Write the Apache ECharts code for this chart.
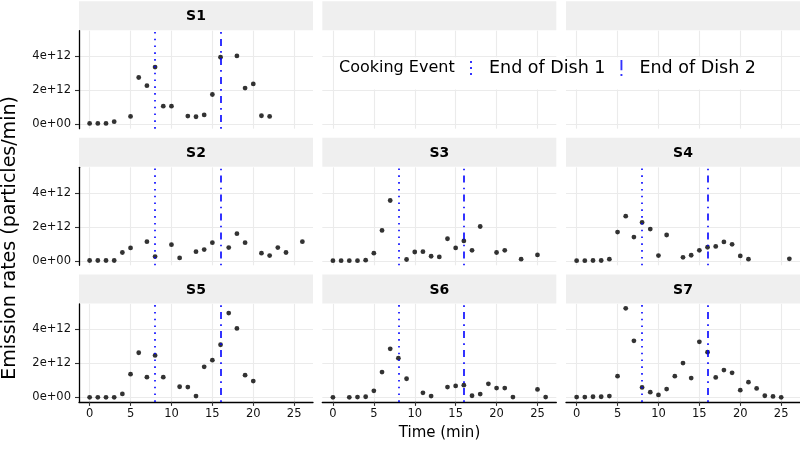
<!DOCTYPE html>
<html><head><meta charset="utf-8">
<script src="https://cdn.jsdelivr.net/npm/echarts@6/dist/echarts.min.js"></script>
<style>html,body{margin:0;padding:0;background:#fff}#c{width:800px;height:451px}</style>
</head><body><div id="c"></div>
<script>
// ---- data (emission rates in units of 1e12 particles/min) ----
const panelNames = ['S1', 'S2', 'S3', 'S4', 'S5', 'S6', 'S7'];
const s1Time = [0,1,2,3,5,6,7,8,9,10,12,13,14,15,16,18,19,20,21,22];
const s1Rate = [0.05,0.05,0.05,0.15,0.46,2.75,2.27,3.36,1.06,1.06,0.48,0.44,0.55,1.75,3.94,4.02,2.13,2.37,0.5,0.46];
const s2Time = [0,1,2,3,4,5,7,8,10,11,13,14,15,17,18,19,21,22,23,24,26];
const s2Rate = [0.02,0.02,0.02,0.02,0.49,0.76,1.13,0.25,0.95,0.17,0.54,0.66,1.07,0.78,1.6,1.07,0.45,0.31,0.78,0.49,1.13];
const s3Time = [0,1,2,3,4,5,6,7,9,10,11,12,13,14,15,16,17,18,20,21,23,25];
const s3Rate = [0.01,0.01,0.01,0.01,0.04,0.45,1.79,3.55,0.08,0.52,0.54,0.27,0.23,1.3,0.76,1.17,0.62,2.02,0.49,0.62,0.1,0.35];
const s4Time = [0,1,2,3,4,5,6,7,8,9,10,11,13,14,15,16,17,18,19,20,21,26];
const s4Rate = [0.01,0.01,0.02,0.02,0.1,1.69,2.63,1.4,2.26,1.87,0.31,1.52,0.21,0.33,0.62,0.8,0.85,1.11,0.97,0.29,0.1,0.12];
const s5Time = [0,1,2,3,4,5,6,7,8,9,11,12,13,14,15,16,17,18,19,20];
const s5Rate = [0.01,0.01,0.01,0.01,0.21,1.37,2.63,1.19,2.47,1.19,0.63,0.61,0.08,1.8,2.19,3.1,4.96,4.06,1.31,0.96];
const s6Time = [0,2,3,4,5,6,7,8,9,11,12,14,15,16,17,18,19,20,21,22,25,26];
const s6Rate = [0.01,0.01,0.02,0.04,0.39,1.49,2.86,2.31,1.1,0.27,0.08,0.61,0.68,0.72,0.1,0.2,0.8,0.55,0.55,0.02,0.47,0.02];
const s7Time = [0,1,2,3,4,5,6,7,8,9,10,11,12,13,14,15,16,17,18,19,20,21,22,23,24,25];
const s7Rate = [0.02,0.02,0.04,0.04,0.08,1.25,5.24,3.33,0.59,0.31,0.15,0.49,1.25,2.02,1.14,3.27,2.66,1.18,1.61,1.45,0.43,0.9,0.53,0.1,0.06,0.01];

const eventNames = ['End of Dish 1', 'End of Dish 2'];
const eventTimes = [8, 16];
const legendTitle = 'Cooking Event';

const xTicks = [0, 5, 10, 15, 20, 25];
const xTickLabels = ['0', '5', '10', '15', '20', '25'];
const yTicks = [0, 2, 4];
const yTickLabels = ['0e+00', '2e+12', '4e+12'];
const xTitle = 'Time (min)';
const yTitle = 'Emission rates (particles/min)';

const panelData = {
  S1: [s1Time, s1Rate], S2: [s2Time, s2Rate], S3: [s3Time, s3Rate], S4: [s4Time, s4Rate],
  S5: [s5Time, s5Rate], S6: [s6Time, s6Rate], S7: [s7Time, s7Rate]
};

// ---- layout ----
const FONT = 'DejaVu Sans';
const cols = [79, 322.3, 566];
const rows = [30.7, 167.3, 303.9];
const panelW = 234, panelH = 98, stripH = 29;
const slotPanel = ['S1', null, null, 'S2', 'S3', 'S4', 'S5', 'S6', 'S7'];
const X_MIN = -1.3, X_MAX = 27.3, Y_MIN = -0.262, Y_MAX = 5.502;
const gridColor = '#ebebeb';
const eventStyles = [
  { color: '#0000ff', width: 1.6, type: [1.6, 5.2] },
  { color: '#0000ff', width: 1.6, type: [1.6, 5.2, 7, 5.2] }
];
const eventIcons = [
  'path://M0,0h2v2h-2z M0,6h2v2h-2z M0,12h2v2h-2z',
  'path://M0,0h2v11h-2z M0,15h2v2h-2z'
];

const grid = [], xAxis = [], yAxis = [], series = [], graphic = [];

slotPanel.forEach((name, i) => {
  const r = Math.floor(i / 3), c = i % 3;
  grid.push({ left: cols[c], top: rows[r], width: panelW, height: panelH, containLabel: false });
  const showX = r === 2, showY = c === 0;
  xAxis.push({
    gridIndex: i, type: 'value', min: X_MIN, max: X_MAX,
    axisLine: { show: showX, onZero: false, lineStyle: { color: '#000', width: 1.3 } },
    axisTick: { show: showX, customValues: xTicks, length: 4, lineStyle: { color: '#333', width: 1.1 } },
    axisLabel: { show: showX, customValues: xTicks, margin: 6, fontFamily: FONT, fontSize: 11.5, color: '#111',
      formatter: v => xTickLabels[xTicks.indexOf(v)] },
    splitLine: { show: true, lineStyle: { color: gridColor, width: 1.1 } }
  });
  yAxis.push({
    gridIndex: i, type: 'value', min: Y_MIN, max: Y_MAX,
    axisLine: { show: showY, onZero: false, lineStyle: { color: '#000', width: 1.3 } },
    axisTick: { show: showY, customValues: yTicks, length: 4, lineStyle: { color: '#333', width: 1.1 } },
    axisLabel: { show: showY, customValues: yTicks, margin: 8, fontFamily: FONT, fontSize: 11.5, color: '#111',
      formatter: v => yTickLabels[yTicks.indexOf(v)] },
    splitLine: { show: true, lineStyle: { color: gridColor, width: 1.1 } }
  });
  // strip
  graphic.push({ type: 'rect', silent: true, z: -1,
    shape: { x: cols[c], y: rows[r] - stripH - 0.5, width: panelW, height: stripH },
    style: { fill: '#efefef' } });
  if (name) {
    graphic.push({ type: 'text', silent: true,
      x: cols[c] + panelW / 2, y: rows[r] - stripH / 2 + 0.5,
      style: { text: name, fill: '#000', font: 'bold 14px "' + FONT + '"', align: 'center', verticalAlign: 'middle' } });
    const [t, v] = panelData[name];
    series.push({
      type: 'scatter', xAxisIndex: i, yAxisIndex: i, symbolSize: 4.8, silent: true,
      itemStyle: { color: '#000' },
      data: t.map((tt, k) => [tt, v[k]])
    });
    eventNames.forEach((en, k) => {
      series.push({
        type: 'scatter', name: en, xAxisIndex: i, yAxisIndex: i, data: [], color: '#0000ff', silent: true,
        markLine: { silent: true, symbol: ['none', 'none'], label: { show: false }, animation: false,
          lineStyle: eventStyles[k], emphasis: { disabled: true },
          data: [{ xAxis: eventTimes[k] }] }
      });
    });
  }
});

// legend background box (covers grid lines of the empty panels)
graphic.push({ type: 'rect', silent: true, z: 50,
  shape: { x: 334, y: 57.2, width: 426, height: 32.2 }, style: { fill: '#fff' } });
graphic.push({ type: 'text', silent: true, z: 51, x: 439.5, y: 433,
  style: { text: xTitle, fill: '#000', font: '15px "' + FONT + '"', align: 'center', verticalAlign: 'middle' } });
graphic.push({ type: 'text', silent: true, z: 51, x: 10, y: 238, rotation: Math.PI / 2,
  style: { text: yTitle, fill: '#000', font: '19px "' + FONT + '"', align: 'center', verticalAlign: 'middle' } });
graphic.push({ type: 'text', silent: true, z: 51, x: 339, y: 68,
  style: { text: legendTitle, fill: '#000', font: '16px "' + FONT + '"', align: 'left', verticalAlign: 'middle' } });

const chart = echarts.init(document.getElementById('c'), null, { renderer: 'canvas' });
chart.setOption({
  animation: false,
  backgroundColor: '#fff',
  grid, xAxis, yAxis, series, graphic,
  legend: {
    left: 470, top: 57, padding: 0, itemGap: 15, itemWidth: 2, itemHeight: 16, z: 60,
    selectedMode: false,
    itemStyle: { borderWidth: 0 },
    textStyle: { fontFamily: FONT, fontSize: 17.5, color: '#000', padding: [0, 0, 0, 12], lineHeight: 22 },
    data: eventNames.map((n, k) => ({ name: n, icon: eventIcons[k] }))
  }
});
</script></body></html>
